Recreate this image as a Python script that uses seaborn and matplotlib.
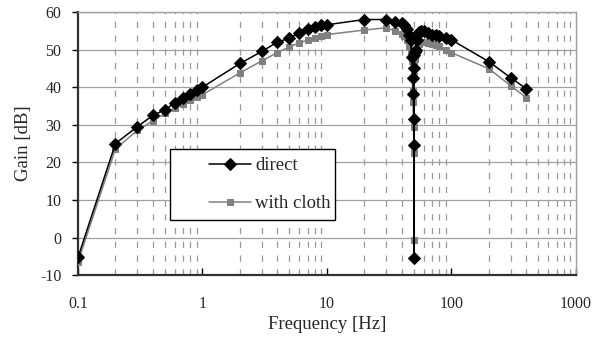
import pandas as pd
import matplotlib
matplotlib.use("Agg")
import matplotlib.pyplot as plt
import matplotlib.ticker as mticker
from matplotlib.patches import Rectangle
import seaborn as sns

# frequency points [Hz]
freqs = [0.1, 0.2, 0.3, 0.4, 0.5, 0.6, 0.7, 0.8, 0.9, 1,
         2, 3, 4, 5, 6, 7, 8, 9, 10, 20, 30, 35, 40, 42, 44, 46, 47, 48,
         49, 49.5, 49.8, 49.9, 50, 50.2, 50.5, 51, 52, 53, 55, 57, 60,
         65, 70, 75, 80, 90, 100, 200, 300, 400]

gain_direct = [-5.3, 25, 29.5, 32.5, 34, 35.8, 37, 38.3, 39.3, 40,
               46.3, 49.5, 52, 53, 54.5, 55.5, 56, 56.5, 56.6, 58, 58, 57.3,
               57, 56.5, 55.5, 54, 52.5, 48, 42.5, 38.2, 31.6, 24.7, -5.5,
               45, 48.5, 49.3, 50, 52.5, 54.8, 55, 55, 54.5, 54, 53.8, 53.5,
               53, 52.6, 46.8, 42.5, 39.6]

gain_cloth = [-6.5, 23.6, 28.5, 31, 33, 34.5, 35.5, 36.5, 37.5, 38,
              43.8, 47, 49.2, 50.7, 51.8, 52.5, 53.2, 53.7, 54, 55.2, 55.8,
              55, 54.2, 53.5, 52.5, 51, 49.5, 47, 39, 36, 29.3, 22.4, -0.7,
              43, 46, 47.5, 49, 50.2, 51.5, 52, 52, 51.8, 51.5, 51.2, 51,
              50, 49.2, 44.9, 40.4, 37.2]

x_ticks = [0.1, 1, 10, 100, 1000]
x_tick_labels = ["0.1", "1", "10", "100", "1000"]
y_ticks = [-10, 0, 10, 20, 30, 40, 50, 60]

df = pd.DataFrame({"freq": freqs, "direct": gain_direct, "with cloth": gain_cloth})

sns.set_style("white")
plt.rcParams["font.family"] = ["Liberation Serif", "DejaVu Serif"]
plt.rcParams["axes.unicode_minus"] = False

fig = plt.figure(figsize=(5.93, 3.38), dpi=100)
ax = fig.add_axes([0.1315, 0.186, 0.8395, 0.7785])

sns.lineplot(data=df, x="freq", y="direct", ax=ax, color="black", lw=1.1,
             marker="D", markersize=6, markeredgecolor="black",
             estimator=None, label="direct", zorder=4)
sns.lineplot(data=df, x="freq", y="with cloth", ax=ax, color="#808080", lw=1.1,
             marker="s", markersize=5, markeredgecolor="#808080",
             estimator=None, label="with cloth", zorder=3)

ax.set_xscale("log")
ax.set_xlim(0.1, 1000)
ax.set_ylim(-10, 60)
ax.set_xticks(x_ticks)
ax.set_xticklabels(x_tick_labels)
ax.xaxis.set_minor_locator(mticker.LogLocator(base=10, subs=range(2, 10)))
ax.xaxis.set_minor_formatter(mticker.NullFormatter())
ax.set_yticks(y_ticks)

ax.yaxis.grid(True, which="major", color="#a0a0a0", lw=0.9, ls="-")
ax.xaxis.grid(True, which="minor", color="#999999", lw=0.9, ls=(0, (5, 6)))
ax.xaxis.grid(False, which="major")
ax.set_axisbelow(True)

ax.tick_params(axis="y", which="major", direction="out", length=4, width=1,
               color="black", labelsize=11.5, pad=8, left=True)
ax.tick_params(axis="x", which="major", direction="in", length=5, width=1,
               color="black", labelsize=11.5, pad=15, bottom=True)
ax.tick_params(axis="x", which="minor", direction="in", length=2, width=0.8,
               color="#a0a0a0", bottom=True)

for side in ["left", "bottom"]:
    ax.spines[side].set_color("#303030")
    ax.spines[side].set_linewidth(1.6)
for side in ["top", "right"]:
    ax.spines[side].set_color("#a0a0a0")
    ax.spines[side].set_linewidth(1.0)

ax.set_xlabel("Frequency [Hz]", fontsize=13.5, labelpad=3)
ax.set_ylabel("Gain [dB]", fontsize=13.5, labelpad=6)

# legend box (white, black border) with the entries placed inside it
ax.add_patch(Rectangle((0.185, 0.209), 0.331, 0.27, transform=ax.transAxes,
                       facecolor="white", edgecolor="black", lw=1.0, zorder=5))
leg = ax.legend(loc="center left", bbox_to_anchor=(0.264, 0.344),
                fontsize=13.5, frameon=False, handlelength=2.2,
                borderpad=0, labelspacing=1.12, handletextpad=0.25,
                borderaxespad=0)
leg.set_zorder(6)

fig.savefig("out.png", dpi=100)
